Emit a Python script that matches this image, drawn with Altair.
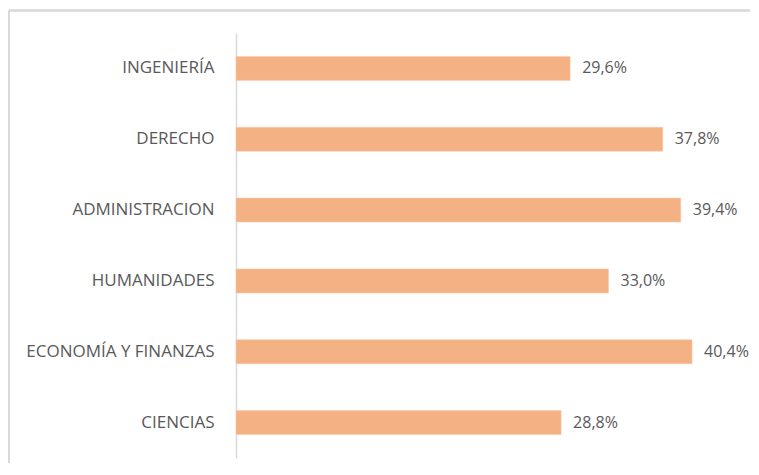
import altair as alt
import pandas as pd

categories = ["INGENIERÍA", "DERECHO", "ADMINISTRACION", "HUMANIDADES", "ECONOMÍA Y FINANZAS", "CIENCIAS"]
values = [29.6, 37.8, 39.4, 33.0, 40.4, 28.8]

df = pd.DataFrame({"cat": categories, "val": values})
df["label"] = [f"{v:.1f}%".replace(".", ",") for v in values]

FONT = "Open Sans"
TXT = "#595959"

y_enc = alt.Y("cat:N", sort=categories, title=None,
              scale=alt.Scale(paddingInner=0.661, paddingOuter=0.33),
              axis=alt.Axis(domainColor="#d9d9d9", domainWidth=1.5, ticks=False,
                            labelPadding=22, labelFont=FONT, labelFontSize=17,
                            labelLimit=400, labelColor=TXT, grid=False))
x_enc = alt.X("val:Q", scale=alt.Scale(domain=[0, 45]), axis=None)

bars = alt.Chart(df).mark_bar(color="#F4B183", stroke="#F8CBAD", strokeWidth=0.5).encode(x=x_enc, y=y_enc)
text = alt.Chart(df).mark_text(align="left", baseline="middle", dx=12, font=FONT,
                               fontSize=16, color=TXT).encode(x=x_enc, y=alt.Y("cat:N", sort=categories), text="label:N")

frame_top = alt.Chart(df).mark_rule(color="#d9d9d9", strokeWidth=1.5).encode(
    x=alt.value(-227), x2=alt.value(520), y=alt.value(-22.5))
frame_left = alt.Chart(df).mark_rule(color="#d9d9d9", strokeWidth=1.5).encode(
    x=alt.value(-227), y=alt.value(-22.5), y2=alt.value(470))

chart = alt.layer(frame_top, frame_left, bars, text).properties(
    width=508, height=425,
    autosize=alt.AutoSizeParams(type="none"),
    padding={"left": 228, "top": 25, "right": 6, "bottom": 5},
).configure_view(stroke=None)

chart.save("out.html", embed_options={"renderer": "svg", "actions": False})
